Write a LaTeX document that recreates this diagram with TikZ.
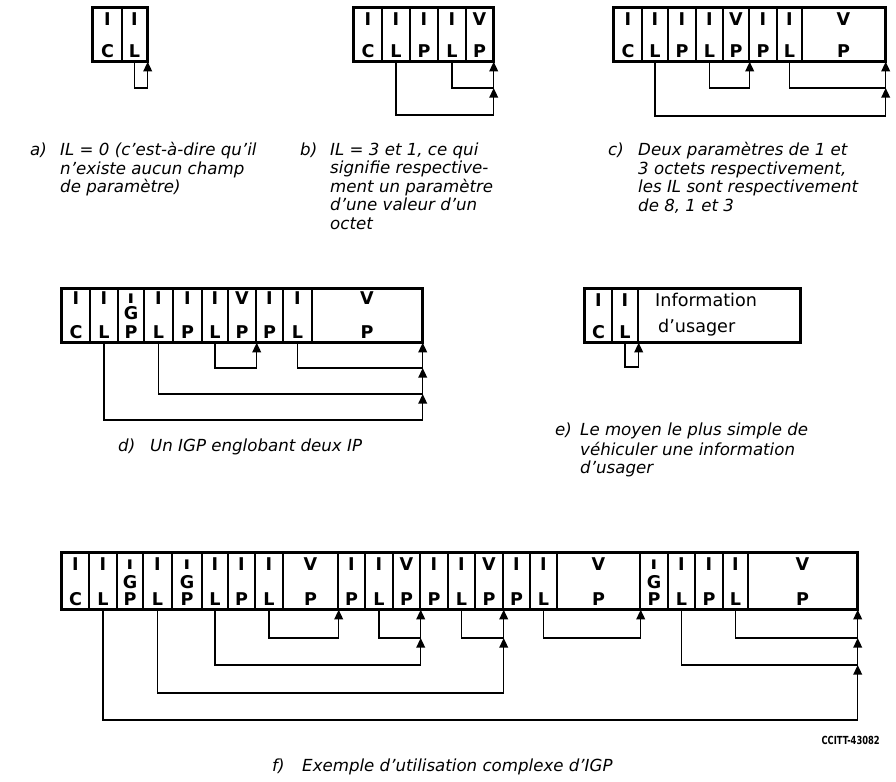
\documentclass[tikz,border=0pt]{standalone}
\usepackage{fontspec}
\usepackage{graphicx}
\setmainfont{DejaVu Sans}
\usetikzlibrary{arrows.meta, calc}
\newcommand\shortI{\scalebox{1}[0.75]{I}}
\tikzset{
  field/.style={rectangle, draw, line width=1.2pt, inner sep=0pt, minimum height=53*0.3mm},
  rowframe/.style={draw, line width=2pt},
  glyph/.style={font=\fontsize{15}{15}\selectfont\bfseries, inner sep=0pt},
  link/.style={-{Triangle[length=2.9mm, width=2.6mm]}, line width=1.3pt},
  captext/.style={font=\fontsize{14.2}{15.8}\selectfont\itshape, align=left, anchor=north west, inner sep=0pt},
}

\begin{document}
\begin{tikzpicture}[x=0.3mm, y=-0.3mm]
\useasboundingbox (0,0) rectangle (896,782);

% a) IL = 0
\foreach \xa/\xb/\up/\lo [count=\k] in {93/122/I/C, 122/147/I/L} {
  \node[field, minimum width=(\xb-\xa)*0.3mm] (a\k) at ({(\xa+\xb)/2},34.5) {};
  \node[glyph] at ($(a\k.north)+(0,12)$) {\up};
  \node[glyph] at ($(a\k.south)+(0,-11)$) {\lo};
}
\draw[rowframe] (a1.north west) rectangle (a2.south east);
\coordinate (al1) at (0,88);
\draw[link] (a2.south) -- (a2.south |- al1) -| (a2.south east);

% b) IL = 3 et 1
\foreach \xa/\xb/\up/\lo [count=\k] in {354/382/I/C, 382/410/I/L, 410/438/I/P, 438/466/I/L, 466/493/V/P} {
  \node[field, minimum width=(\xb-\xa)*0.3mm] (b\k) at ({(\xa+\xb)/2},34.5) {};
  \node[glyph] at ($(b\k.north)+(0,12)$) {\up};
  \node[glyph] at ($(b\k.south)+(0,-11)$) {\lo};
}
\draw[rowframe] (b1.north west) rectangle (b5.south east);
\coordinate (bl1) at (0,88);
\coordinate (bl2) at (0,115);
\draw[link] (b4.south) -- (b4.south |- bl1) -| (b5.south east);
\draw[link] (b2.south) -- (b2.south |- bl2) -| (b5.south east |- bl1);

% c) deux parametres
\foreach \xa/\xb/\up/\lo [count=\k] in {614/642/I/C, 642/668/I/L, 668/696/I/P, 696/723/I/L, 723/749/V/P, 749/777/I/P, 777/802/I/L, 802/885/V/P} {
  \node[field, minimum width=(\xb-\xa)*0.3mm] (c\k) at ({(\xa+\xb)/2},34.5) {};
  \node[glyph] at ($(c\k.north)+(0,12)$) {\up};
  \node[glyph] at ($(c\k.south)+(0,-11)$) {\lo};
}
\draw[rowframe] (c1.north west) rectangle (c8.south east);
\coordinate (cl1) at (0,88);
\coordinate (cl2) at (0,116);
\draw[link] (c4.south) -- (c4.south |- cl1) -| (c5.south east);
\draw[link] (c7.south) -- (c7.south |- cl1) -| (c8.south east);
\draw[link] (c2.south) -- (c2.south |- cl2) -| (c8.south east |- cl1);

% d) un IGP
\foreach \xa/\xb/\up/\lo [count=\k] in {62/90/I/C, 90/118/I/L, 118/144/\shortI/P, 144/173/I/L, 173/202/I/P, 202/228/I/L, 228/256/V/P, 256/283/I/P, 283/312/I/L, 312/422/V/P} {
  \node[field, minimum width=(\xb-\xa)*0.3mm] (d\k) at ({(\xa+\xb)/2},315.5) {};
  \node[glyph] at ($(d\k.north)+(0,10)$) {\up};
  \node[glyph] at ($(d\k.south)+(0,-11)$) {\lo};
}
\node[glyph] at ($(d3.center)+(0,-2)$) {G};
\draw[rowframe] (d1.north west) rectangle (d10.south east);
\coordinate (dl1) at (0,368);
\coordinate (dl2) at (0,394);
\coordinate (dl3) at (0,420);
\draw[link] (d6.south) -- (d6.south |- dl1) -| (d7.south east);
\draw[link] (d9.south) -- (d9.south |- dl1) -| (d10.south east);
\draw[link] (d4.south) -- (d4.south |- dl2) -| (d10.south east |- dl1);
\draw[link] (d2.south) -- (d2.south |- dl3) -| (d10.south east |- dl2);

% e) information d'usager
\foreach \xa/\xb/\up/\lo [count=\k] in {585/612/I/C, 612/638/I/L} {
  \node[field, minimum width=(\xb-\xa)*0.3mm] (e\k) at ({(\xa+\xb)/2},315.5) {};
  \node[glyph] at ($(e\k.north)+(0,12)$) {\up};
  \node[glyph] at ($(e\k.south)+(0,-11)$) {\lo};
}
\node[field, minimum width=162*0.3mm] (e3) at (719,315.5) {};
\node[font=\fontsize{15}{15}\selectfont, anchor=base west, inner sep=0pt] (info) at (655,307) {Information};
\node[font=\fontsize{15}{15}\selectfont, anchor=base west, inner sep=0pt] (usag) at (658,333) {d’usager};
\draw[rowframe] (e1.north west) rectangle (e3.south east);
\coordinate (el1) at (0,367);
\draw[link] (e2.south) -- (e2.south |- el1) -| (e2.south east);

% f) utilisation complexe
\foreach \xa/\xb/\up/\lo [count=\k] in {62/89/I/C, 89/117/I/L, 117/143/\shortI/P, 143/172/I/L, 172/202/\shortI/P, 202/228/I/L, 228/255/I/P, 255/283/I/L, 283/338/V/P, 338/365/I/P, 365/393/I/L, 393/420/V/P, 420/448/I/P, 448/475/I/L, 475/503/V/P, 503/530/I/P, 530/557/I/L, 557/640/V/P, 640/668/\shortI/P, 668/695/I/L, 695/723/I/P, 723/748/I/L, 748/857/V/P} {
  \node[field, minimum width=(\xb-\xa)*0.3mm, minimum height=56*0.3mm] (f\k) at ({(\xa+\xb)/2},581) {};
  \node[glyph] at ($(f\k.north)+(0,12)$) {\up};
  \node[glyph] at ($(f\k.south)+(0,-11)$) {\lo};
}
\foreach \k in {3,5,19}
  \node[glyph] at ($(f\k.center)+(0,1)$) {G};
\draw[rowframe] (f1.north west) rectangle (f23.south east);
\coordinate (fl1) at (0,638);
\coordinate (fl2) at (0,665);
\coordinate (fl3) at (0,693);
\coordinate (fl4) at (0,720);
\foreach \s/\t in {8/9, 11/12, 14/15, 17/18, 22/23}
  \draw[link] (f\s.south) -- (f\s.south |- fl1) -| (f\t.south east);
\draw[link] (f6.south) -- (f6.south |- fl2) -| (f12.south east |- fl1);
\draw[link] (f20.south) -- (f20.south |- fl2) -| (f23.south east |- fl1);
\draw[link] (f4.south) -- (f4.south |- fl3) -| (f15.south east |- fl1);
\draw[link] (f2.south) -- (f2.south |- fl4) -| (f23.south east |- fl2);

% legends
\node[captext] (capa) at (30,142) {\strut a)};
\node[captext] (texta) at (60,142) {\strut IL = 0 (c’est-à-dire qu’il\\n’existe aucun champ\\de paramètre)};
\node[captext] (capb) at (300,142) {\strut b)};
\node[captext] (textb) at (330,142) {\strut IL = 3 et 1, ce qui\\signifie respective-\\ment un paramètre\\d’une valeur d’un\\octet};
\node[captext] (capc) at (608,142) {\strut c)};
\node[captext] (textc) at (638,142) {\strut Deux paramètres de 1 et\\3 octets respectivement,\\les IL sont respectivement\\de 8, 1 et 3};
\node[captext] (capd) at (118,438) {\strut d)};
\node[captext] (textd) at (150,438) {\strut Un IGP englobant deux IP};
\node[captext] (cape) at (555,422) {\strut e)};
\node[captext] (texte) at (580,422) {\strut Le moyen le plus simple de\\véhiculer une information\\d’usager};
\node[captext] (capf) at (272,758) {\strut f)};
\node[captext] (textf) at (302,758) {\strut Exemple d’utilisation complexe d’IGP};
\node[font=\fontsize{9.5}{10}\selectfont\bfseries, anchor=east, inner sep=0pt] (ref) at (880,740) {\scalebox{0.75}[1]{CCITT-43082}};
\end{tikzpicture}
\end{document}
